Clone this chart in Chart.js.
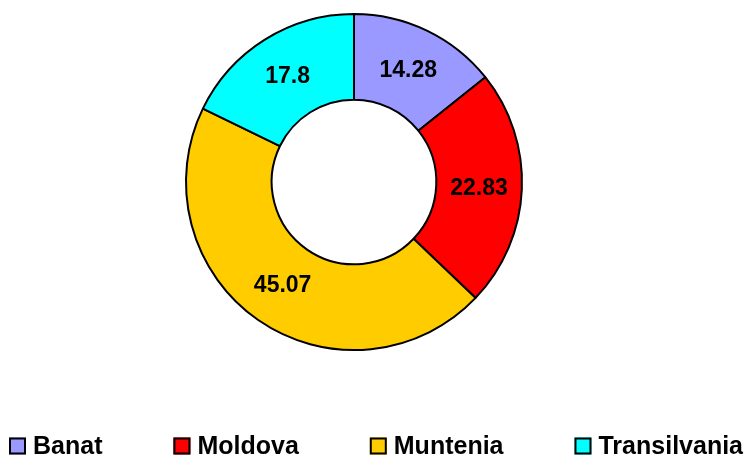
<!DOCTYPE html>
<html lang="ro">
<head>
    <meta charset="UTF-8">
    <title>Doughnut</title>
    <script src="https://cdn.jsdelivr.net/npm/chart.js@4.4.0/dist/chart.umd.min.js"></script>
    <style>
        body { margin: 0; background: #fff; }
    </style>
</head>
<body>
<canvas id="myChart" width="750" height="457"></canvas>

<script>
    var regions = ['Banat', 'Moldova', 'Muntenia', 'Transilvania'];
    var shares = [14.28, 22.83, 45.07, 17.8];
    var colours = ['#9999FF', '#FF0000', '#FFCC00', '#00FFFF'];

    (function(){
        var ctx = document.getElementById("myChart").getContext("2d");
        var fontFamily = "'Liberation Sans', Arial, sans-serif";

        // value labels in the middle of each ring segment
        var valueLabels = {
            id: 'valueLabels',
            afterDatasetsDraw: function (chart) {
                var c = chart.ctx;
                var meta = chart.getDatasetMeta(0);
                c.save();
                c.font = "bold 23px " + fontFamily;
                c.fillStyle = '#000';
                c.textAlign = 'center';
                c.textBaseline = 'middle';
                meta.data.forEach(function (arc, i) {
                    var p = arc.tooltipPosition();
                    c.fillText(String(chart.data.datasets[0].data[i]), p.x, p.y + 1);
                });
                c.restore();
            }
        };

        // legend row along the bottom, spread over the canvas width
        var bottomLegend = {
            id: 'bottomLegend',
            afterDraw: function (chart) {
                var c = chart.ctx;
                var box = 17, textGap = 7, yMid = 446, left = 9, right = 743;
                c.save();
                c.font = "bold 25px " + fontFamily;
                var widths = chart.data.labels.map(function (t) { return c.measureText(t).width; });
                var used = widths.reduce(function (s, w) { return s + box + textGap + w; }, 0);
                var itemGap = (right - left - used) / (widths.length - 1);
                var x = left;
                chart.data.labels.forEach(function (t, i) {
                    c.fillStyle = chart.data.datasets[0].backgroundColor[i];
                    c.fillRect(x, yMid - box / 2, box, box);
                    c.lineWidth = 2;
                    c.strokeStyle = '#000';
                    c.strokeRect(x + 1, yMid - box / 2 + 1, box - 2, box - 2);
                    c.fillStyle = '#000';
                    c.textAlign = 'left';
                    c.textBaseline = 'middle';
                    c.fillText(t, x + box + textGap, yMid + 1);
                    x += box + textGap + widths[i] + itemGap;
                });
                c.restore();
            }
        };

        new Chart(ctx, {
            type: 'doughnut',
            data: {
                labels: regions,
                datasets: [{
                    data: shares,
                    backgroundColor: colours,
                    borderColor: '#000',
                    borderWidth: 2
                }]
            },
            options: {
                responsive: false,
                animation: false,
                cutout: '49%',
                layout: { padding: { top: 13, left: 0, right: 42, bottom: 106 } },
                plugins: {
                    legend: { display: false },
                    tooltip: { enabled: false }
                }
            },
            plugins: [valueLabels, bottomLegend]
        });
    })();
</script>
</body>
</html>
